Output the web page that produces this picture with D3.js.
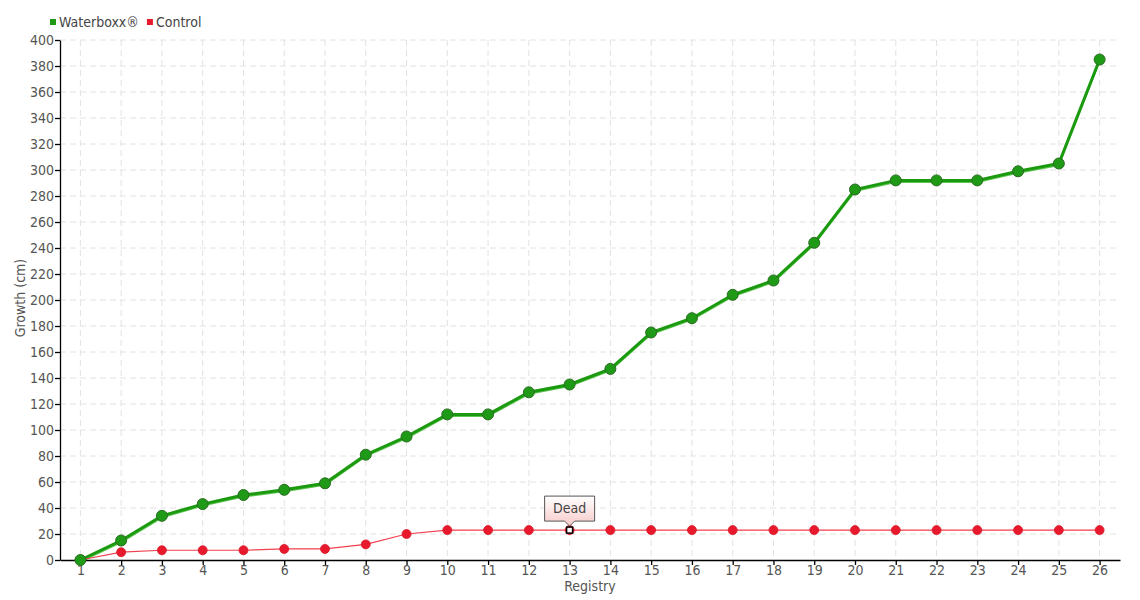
<!DOCTYPE html>
<html>
<head>
<meta charset="utf-8">
<script src="https://cdn.jsdelivr.net/npm/d3@7"></script>
<style>
  body { margin: 0; background: #fff; }
  svg text { font-family: "DejaVu Sans Condensed", "Liberation Sans Narrow", sans-serif; font-stretch: condensed; }
</style>
</head>
<body>
<div id="chart"></div>
<script>
// data
var registry = d3.range(1, 27).map(String);
var waterboxx = [0, 15, 34, 43, 50, 54, 59, 81, 95, 112, 112, 129, 135, 147, 175, 186, 204, 215, 244, 285, 292, 292, 292, 299, 305, 385];
var control = [0, 6, 7.5, 7.5, 7.5, 8.5, 8.5, 12, 20, 23, 23, 23, 23, 23, 23, 23, 23, 23, 23, 23, 23, 23, 23, 23, 23, 23];
var yTicks = d3.range(0, 401, 20);
var deadAt = "13";

// set the dimensions and margins of the graph
var margin = { top: 40, right: 20, bottom: 40, left: 60 },
  width = 1140 - margin.left - margin.right,
  height = 600 - margin.top - margin.bottom;

var svg = d3
  .select("#chart")
  .append("svg")
  .attr("width", 1140)
  .attr("height", 600);

var chart = svg
  .append("g")
  .attr("transform", "translate(" + margin.left + "," + margin.top + ")");

// scales
var x = d3.scalePoint().domain(registry).range([0, width]).padding(0.5);
var y = d3.scaleLinear().domain([0, 400]).range([height, 0]);

// grid lines
chart
  .append("g")
  .selectAll("line")
  .data(yTicks.slice(1))
  .enter()
  .append("line")
  .attr("x1", 0)
  .attr("x2", width)
  .attr("y1", d => y(d))
  .attr("y2", d => y(d))
  .attr("stroke", "#e2e2e2")
  .attr("stroke-dasharray", "6,4");

chart
  .append("g")
  .selectAll("line")
  .data(registry)
  .enter()
  .append("line")
  .attr("x1", d => x(d))
  .attr("x2", d => x(d))
  .attr("y1", 0)
  .attr("y2", height)
  .attr("stroke", "#e2e2e2")
  .attr("stroke-dasharray", "6,4");

// lines
var lineW = d3.line().x((d, i) => x(registry[i])).y(d => y(d));

// light under-stroke for the double look of the green line
chart
  .append("path")
  .datum(waterboxx)
  .attr("d", lineW)
  .attr("transform", "translate(0,1.5)")
  .attr("stroke", "#5cc44f")
  .attr("stroke-width", 2)
  .attr("fill", "none");

chart
  .append("path")
  .datum(waterboxx)
  .attr("d", lineW)
  .attr("stroke", "#1b9a10")
  .attr("stroke-width", 3)
  .attr("fill", "none");

chart
  .append("path")
  .datum(control)
  .attr("d", lineW)
  .attr("stroke", "#f2404e")
  .attr("stroke-width", 1.2)
  .attr("fill", "none");

// axes
var yAxis = chart
  .append("g")
  .call(d3.axisLeft(y).tickValues(yTicks).tickSize(5).tickSizeOuter(0));

var xAxis = chart
  .append("g")
  .attr("transform", "translate(0," + height + ")")
  .call(d3.axisBottom(x).tickSize(5).tickSizeOuter(0));

[yAxis, xAxis].forEach(function(a) {
  a.select(".domain").attr("stroke", "#000").attr("stroke-width", 1.3);
  a.selectAll(".tick line").attr("stroke", "#000").attr("stroke-width", 1.3);
  a.selectAll("text")
    .attr("fill", "#555")
    .style("font-family", null)
    .style("font-size", "14px");
});
yAxis.selectAll("text").attr("x", -6);
xAxis.selectAll("text").attr("y", 5);

// red points
chart
  .append("g")
  .selectAll("circle")
  .data(control)
  .enter()
  .append("circle")
  .attr("cx", (d, i) => x(registry[i]))
  .attr("cy", d => y(d))
  .attr("r", 4.5)
  .attr("fill", "#e8192c")
  .attr("stroke", "#d81a2a")
  .attr("stroke-width", 0.8);

// green points
chart
  .append("g")
  .selectAll("circle")
  .data(waterboxx)
  .enter()
  .append("circle")
  .attr("cx", (d, i) => x(registry[i]))
  .attr("cy", d => y(d))
  .attr("r", 5.5)
  .attr("fill", "#1f9a16")
  .attr("stroke", "#2a6b23")
  .attr("stroke-width", 1);

// "Dead" marker
var di = registry.indexOf(deadAt);
var dx = x(deadAt), dy = y(control[di]);
chart
  .append("rect")
  .attr("x", dx - 3)
  .attr("y", dy - 3)
  .attr("width", 6)
  .attr("height", 6)
  .attr("fill", "#fff")
  .attr("stroke", "#000")
  .attr("stroke-width", 1.5);

var grad = svg
  .append("defs")
  .append("linearGradient")
  .attr("id", "tipGrad")
  .attr("x1", 0).attr("y1", 0).attr("x2", 0).attr("y2", 1);
grad.append("stop").attr("offset", "0%").attr("stop-color", "#ffffff");
grad.append("stop").attr("offset", "100%").attr("stop-color", "#f7c9c9");

var tw = 50, th = 25;
var tx = dx - tw / 2, ty = dy - 9 - th;
chart
  .append("path")
  .attr(
    "d",
    "M" + tx + "," + ty +
      "h" + tw + "v" + th +
      "h" + -(tw / 2 - 5) + "l-5,5l-5,-5" +
      "h" + -(tw / 2 - 5) + "Z"
  )
  .attr("fill", "url(#tipGrad)")
  .attr("stroke", "#555")
  .attr("stroke-width", 1);

chart
  .append("text")
  .attr("x", dx)
  .attr("y", ty + 17)
  .attr("text-anchor", "middle")
  .attr("fill", "#444")
  .style("font-size", "14px")
  .text("Dead");

// axis titles
chart
  .append("text")
  .attr("x", width / 2)
  .attr("y", height + 31)
  .attr("text-anchor", "middle")
  .attr("fill", "#555")
  .style("font-size", "14px")
  .text("Registry");

chart
  .append("text")
  .attr("transform", "rotate(-90)")
  .attr("x", -258)
  .attr("y", -35)
  .attr("text-anchor", "middle")
  .attr("fill", "#555")
  .style("font-size", "14px")
  .text("Growth (cm)");

// legend
var legend = [
  { name: "Waterboxx®", color: "#1f9a16" },
  { name: "Control", color: "#e8192c" }
];
var lx = 50;
legend.forEach(function(d) {
  var g = svg.append("g").attr("transform", "translate(" + lx + ",22)");
  g.append("rect")
    .attr("x", 0)
    .attr("y", -3)
    .attr("width", 6)
    .attr("height", 6)
    .attr("fill", d.color);
  var t = g.append("text")
    .attr("x", 9)
    .attr("y", 5)
    .attr("fill", "#444")
    .style("font-size", "14px")
    .text(d.name);
  lx += 9 + t.node().getComputedTextLength() + 8;
});
</script>
</body>
</html>
